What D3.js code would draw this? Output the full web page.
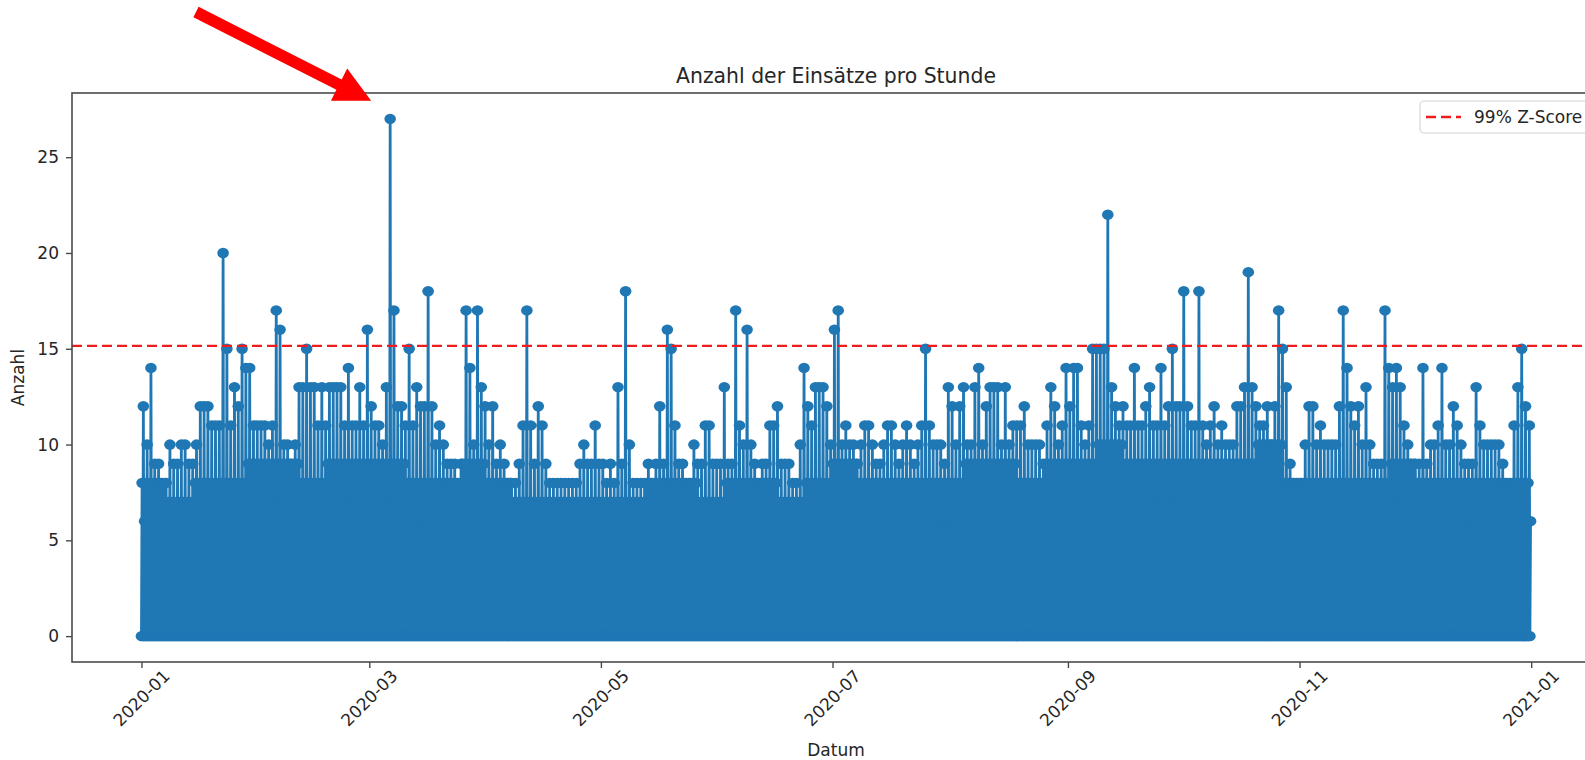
<!DOCTYPE html>
<html>
<head>
<meta charset="utf-8">
<script src="https://cdn.jsdelivr.net/npm/d3@7"></script>
<style>
  body { margin: 0; background: #fff; }
  svg { display: block; font-family: "DejaVu Sans", sans-serif; }
</style>
</head>
<body>
<svg id="chart" width="1585" height="760"></svg>
<script>
// Höchster Stundenwert je Tag (2020-01-01 .. 2020-12-31).
const dailyPeak = [
  12, 10, 14, 9, 9, 8, 8, 10, 9, 9, 10, 10, 9, 9, 10, 12, 12, 12, 11, 11, 11, 20, 15, 11, 13, 12, 15, 14, 14, 11, 11,
  11, 11, 10, 11, 17, 16, 10, 10, 9, 10, 13, 13, 15, 13, 13, 11, 13, 11, 13, 13, 13, 13, 11, 14, 11, 11, 13, 11, 16,
  12, 11, 11, 10, 13, 27, 17, 12, 12, 11, 15, 11, 13, 12, 12, 18, 12, 10, 11, 10, 9, 9, 9, 8, 9, 17, 14, 10, 17, 13, 12,
  10, 12, 9, 10, 9, 8, 8, 8, 9, 11, 17, 11, 9, 12, 11, 9, 8, 8, 8, 8, 8, 8, 8, 8, 9, 10, 9, 9, 11, 9,
  9, 8, 9, 8, 13, 9, 18, 10, 8, 8, 8, 8, 9, 8, 9, 12, 9, 16, 15, 11, 9, 9, 8, 8, 10, 9, 9, 11, 11, 9, 9,
  9, 13, 9, 9, 17, 11, 10, 16, 10, 9, 8, 9, 9, 11, 11, 12, 9, 9, 9, 8, 8, 10, 14, 12, 11, 13, 13, 13, 12, 10,
  16, 17, 10, 11, 10, 10, 9, 10, 11, 11, 10, 9, 9, 10, 11, 11, 10, 9, 10, 11, 10, 9, 10, 11, 15, 11, 10, 10, 10, 9, 13,
  12, 10, 12, 13, 10, 10, 13, 14, 10, 12, 13, 13, 13, 10, 13, 10, 11, 11, 11, 12, 10, 10, 10, 10, 9, 11, 13, 12, 10, 11, 14,
  12, 14, 14, 11, 10, 11, 15, 15, 15, 15, 22, 13, 12, 11, 12, 11, 11, 14, 11, 11, 12, 13, 11, 11, 14, 11, 12, 15, 12, 12,
  18, 12, 11, 11, 18, 11, 10, 11, 12, 10, 11, 10, 10, 10, 12, 12, 13, 19, 13, 12, 11, 11, 12, 10, 12, 17, 15, 13, 9, 8, 8,
  8, 10, 12, 12, 10, 11, 10, 10, 10, 10, 12, 17, 14, 12, 11, 12, 10, 13, 10, 9, 9, 9, 17, 14, 13, 14, 13, 11, 10, 9,
  9, 9, 14, 9, 10, 10, 11, 14, 10, 10, 12, 11, 10, 9, 9, 9, 13, 11, 10, 10, 10, 10, 10, 9, 8, 8, 11, 13, 15, 12, 11
];

// Obere Kante des dichten blauen Bereichs je Woche.
const weeklyBand = [
  8, 7, 8, 8, 9,
  9, 8, 9, 9,
  9, 8, 8, 9,
  8, 7, 7, 7, 7,
  7, 8, 8, 7,
  8, 8, 7, 8,
  9, 8, 8, 8, 8,
  9, 9, 8, 9,
  9, 10, 9, 9,
  9, 9, 9, 10, 8,
  8, 8, 8, 9,
  8, 8, 8, 8, 8
];

// Schwellwert (rote gestrichelte Linie).
const zScore99 = 15.15;

const yTicks = [0, 5, 10, 15, 20, 25];
const xTickLabels = ["2020-01", "2020-03", "2020-05", "2020-07", "2020-09", "2020-11", "2021-01"];

const chartTitle = "Anzahl der Einsätze pro Stunde";
const xLabel = "Datum";
const yLabel = "Anzahl";
const legendLabel = "99% Z-Score";

// Each day is drawn as a few hourly points: zero hours, the dense band and the peak hour.
const series = [];
dailyPeak.forEach((peak, i) => {
  const band = weeklyBand[Math.floor(i / 7)];
  const hours = [0, 4, 8, 12, 16, 20];
  const vals = [0, band, 0, peak, 0, band - 2];
  hours.forEach((h, k) => {
    series.push({ t: new Date(Date.UTC(2020, 0, 1 + i, h)), v: vals[k] });
  });
});

const svg = d3.select("#chart");
const plotLeft = 72, plotRight = 1600, plotTop = 93, plotBottom = 662;
const blue = "#1f77b4";
const textColor = "#262626";
const spineColor = "#4a4a4a";

// x domain padded by 5% like matplotlib
const t0 = series[0].t, t1 = series[series.length - 1].t;
const pad = (t1 - t0) * 0.05;
const x = d3.scaleUtc()
  .domain([new Date(+t0 - pad), new Date(+t1 + pad)])
  .range([plotLeft, plotRight]);

const yMax = d3.max(series, d => d.v);
const yPad = yMax * 0.05;
const y = d3.scaleLinear()
  .domain([-yPad, yMax + yPad])
  .range([plotBottom, plotTop]);

// data line and markers
const line = d3.line().x(d => x(d.t)).y(d => y(d.v));
svg.append("path")
  .datum(series)
  .attr("d", line)
  .attr("fill", "none")
  .attr("stroke", blue)
  .attr("stroke-width", 2.8)
  .attr("stroke-linejoin", "round");

svg.append("g")
  .selectAll("ellipse")
  .data(series)
  .join("ellipse")
  .attr("cx", d => x(d.t))
  .attr("cy", d => y(d.v))
  .attr("rx", 5.8)
  .attr("ry", 5.2)
  .attr("fill", blue);

// threshold line
svg.append("line")
  .attr("x1", plotLeft).attr("x2", plotRight)
  .attr("y1", y(zScore99)).attr("y2", y(zScore99))
  .attr("stroke", "#ee1c1c")
  .attr("stroke-width", 2.4)
  .attr("stroke-dasharray", "10,5");

// spines
svg.append("rect")
  .attr("x", plotLeft).attr("y", plotTop)
  .attr("width", plotRight - plotLeft).attr("height", plotBottom - plotTop)
  .attr("fill", "none")
  .attr("stroke", spineColor)
  .attr("stroke-width", 1.6);

// y axis
const yAxis = svg.append("g")
  .attr("transform", `translate(${plotLeft},0)`)
  .call(d3.axisLeft(y).tickValues(yTicks).tickSize(6).tickPadding(7));
yAxis.select(".domain").remove();
yAxis.selectAll(".tick line").attr("stroke", spineColor).attr("stroke-width", 1.4);
yAxis.selectAll(".tick text")
  .attr("fill", textColor)
  .style("font-size", "17px")
  .style("font-family", "DejaVu Sans");

// x axis
const xTickDates = xTickLabels.map(s => d3.utcParse("%Y-%m")(s));
const xAxis = svg.append("g")
  .attr("transform", `translate(0,${plotBottom})`)
  .call(d3.axisBottom(x).tickValues(xTickDates).tickSize(6).tickFormat(() => ""));
xAxis.select(".domain").remove();
xAxis.selectAll(".tick line").attr("stroke", spineColor).attr("stroke-width", 1.4);

// rotated tick labels, centred on the tick like matplotlib's rotation=45
xTickDates.forEach((d, i) => {
  const g = svg.append("g");
  const txt = g.append("text")
    .text(xTickLabels[i])
    .attr("text-anchor", "middle")
    .attr("dy", "0.35em")
    .attr("fill", textColor)
    .style("font-size", "17px");
  const w = txt.node().getComputedTextLength();
  const half = (w + 14) * Math.SQRT1_2 / 2;
  g.attr("transform", `translate(${x(d)},${plotBottom + 6 + half}) rotate(-45)`);
});

// labels
svg.append("text")
  .attr("x", (plotLeft + plotRight) / 2).attr("y", 83)
  .attr("text-anchor", "middle")
  .attr("fill", textColor)
  .style("font-size", "20.4px")
  .text(chartTitle);

svg.append("text")
  .attr("x", (plotLeft + plotRight) / 2).attr("y", 756)
  .attr("text-anchor", "middle")
  .attr("fill", textColor)
  .style("font-size", "17px")
  .text(xLabel);

svg.append("text")
  .attr("transform", `translate(24,${(plotTop + plotBottom) / 2}) rotate(-90)`)
  .attr("text-anchor", "middle")
  .attr("fill", textColor)
  .style("font-size", "17px")
  .text(yLabel);

// legend (upper right, cut off by the window)
const lg = svg.append("g");
lg.append("rect")
  .attr("x", 1420).attr("y", 101)
  .attr("width", 172).attr("height", 32)
  .attr("rx", 4)
  .attr("fill", "#fff").attr("fill-opacity", 0.8)
  .attr("stroke", "#d6d6d6").attr("stroke-width", 1.2);
lg.append("line")
  .attr("x1", 1426).attr("x2", 1461)
  .attr("y1", 117).attr("y2", 117)
  .attr("stroke", "#ee1c1c")
  .attr("stroke-width", 2.4)
  .attr("stroke-dasharray", "10,5");
lg.append("text")
  .attr("x", 1474).attr("y", 123)
  .attr("fill", textColor)
  .style("font-size", "17px")
  .text(legendLabel);

// red annotation arrow pointing at the maximum
const maxPoint = series.reduce((a, b) => (b.v > a.v ? b : a));
const tip = [x(maxPoint.t) - 19, y(maxPoint.v) - 18];
const tail = [196, 12];
const ang = Math.atan2(tip[1] - tail[1], tip[0] - tail[0]);
const arrowLen = Math.hypot(tip[0] - tail[0], tip[1] - tail[1]);
const shaftW = 5.8, headW = 18, headL = 36;
const arrowPts = [
  [0, -shaftW], [arrowLen - headL, -shaftW], [arrowLen - headL, -headW], [arrowLen, 0],
  [arrowLen - headL, headW], [arrowLen - headL, shaftW], [0, shaftW]
];
svg.append("polygon")
  .attr("points", arrowPts.map(p => p.join(",")).join(" "))
  .attr("transform", `translate(${tail[0]},${tail[1]}) rotate(${ang * 180 / Math.PI})`)
  .attr("fill", "#ff0000");
</script>
</body>
</html>
